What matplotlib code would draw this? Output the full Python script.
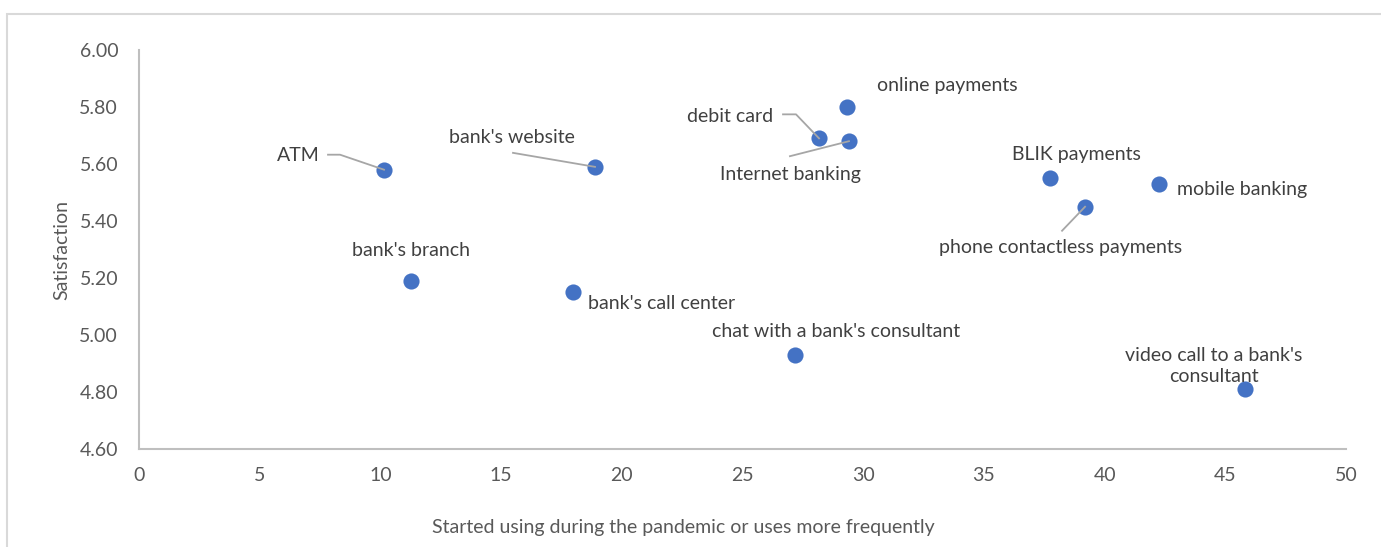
import matplotlib
matplotlib.use("Agg")
import matplotlib.pyplot as plt
from matplotlib.lines import Line2D
from matplotlib.patches import Rectangle
from matplotlib.transforms import IdentityTransform

plt.rcParams['font.family'] = ['Lato', 'DejaVu Sans']

labels = ["ATM", "bank's website", "debit card", "online payments", "Internet banking",
          "BLIK payments", "mobile banking", "phone contactless payments", "bank's branch",
          "bank's call center", "chat with a bank's consultant",
          "video call to a bank's\nconsultant"]
x_vals = [10.15, 18.89, 28.17, 29.33, 29.41, 37.74, 42.25, 39.19, 11.27, 17.98, 27.18, 45.82]
y_vals = [5.58, 5.59, 5.69, 5.80, 5.68, 5.55, 5.53, 5.45, 5.19, 5.15, 4.93, 4.81]
x_ticks = [0, 5, 10, 15, 20, 25, 30, 35, 40, 45, 50]
y_ticks = [4.60, 4.80, 5.00, 5.20, 5.40, 5.60, 5.80, 6.00]

# label placement (image-pixel offsets from point; y down), alignment, leader vertices
label_style = [
    ((-86, -14), 'center', [(-56, -15), (-44, -15)]),
    ((-83, -29), 'center', [(-82, -14)]),
    ((-89, -22), 'center', [(-36, -24), (-23, -24)]),
    ((100, -21), 'center', None),
    ((-59, 33), 'center', [(-59, 15)]),
    ((26, -24), 'center', None),
    ((18, 6), 'left', None),
    ((-24, 41), 'center', [(-23, 24)]),
    ((0, -30), 'center', None),
    ((15, 11), 'left', None),
    ((41, -23), 'center', None),
    ((-31, -23), 'center', None),
]

W, H = 1381, 547
fig = plt.figure(figsize=(W / 100, H / 100), dpi=100)
fig.patch.set_facecolor('white')

# outer chart frame
fig.add_artist(Rectangle((7 / W, -0.1), 1.2, (H - 14) / H + 0.1, transform=fig.transFigure,
                         fill=False, edgecolor='#d9d9d9', linewidth=1.5))

ax = fig.add_axes([139 / W, (H - 449) / H, (1346 - 139) / W, (449 - 50) / H])
ax.set_xlim(0, 50)
ax.set_ylim(4.6, 6.0)
ax.set_xticks(x_ticks)
ax.set_yticks(y_ticks)
ax.set_yticklabels([f"{v:.2f}" for v in y_ticks])
ax.tick_params(length=0, labelsize=14, labelcolor='#595959')
ax.tick_params(axis='y', pad=15)
ax.tick_params(axis='x', pad=13)
for s in ['top', 'right']:
    ax.spines[s].set_visible(False)
for s in ['left', 'bottom']:
    ax.spines[s].set_color('#bfbfbf')
    ax.spines[s].set_linewidth(1.5)

ax.scatter(x_vals, y_vals, s=135, color='#4472C4', zorder=3, linewidths=0)

fig.canvas.draw()
for lab, xv, yv, (off, ha, leader) in zip(labels, x_vals, y_vals, label_style):
    px, py = ax.transData.transform((xv, yv))
    if leader:
        xs = [px + dx for dx, dy in leader] + [px]
        ys = [py - dy for dx, dy in leader] + [py]
        fig.add_artist(Line2D(xs, ys, transform=IdentityTransform(), color='#a6a6a6',
                              linewidth=1.3, zorder=2))
    ax.annotate(lab, xy=(xv, yv), xytext=(off[0], -off[1]), textcoords='offset pixels',
                ha=ha, va='center', fontsize=14, color='#404040', linespacing=1.3)

fig.text(62 / W, 1 - 250 / H, "Satisfaction", rotation=90, ha='center', va='center',
         fontsize=14, color='#595959')
fig.text(683 / W, 1 - 528 / H, "Started using during the pandemic or uses more frequently",
         ha='center', va='center', fontsize=14, color='#595959')

fig.savefig("out.png", dpi=100, facecolor='white')
